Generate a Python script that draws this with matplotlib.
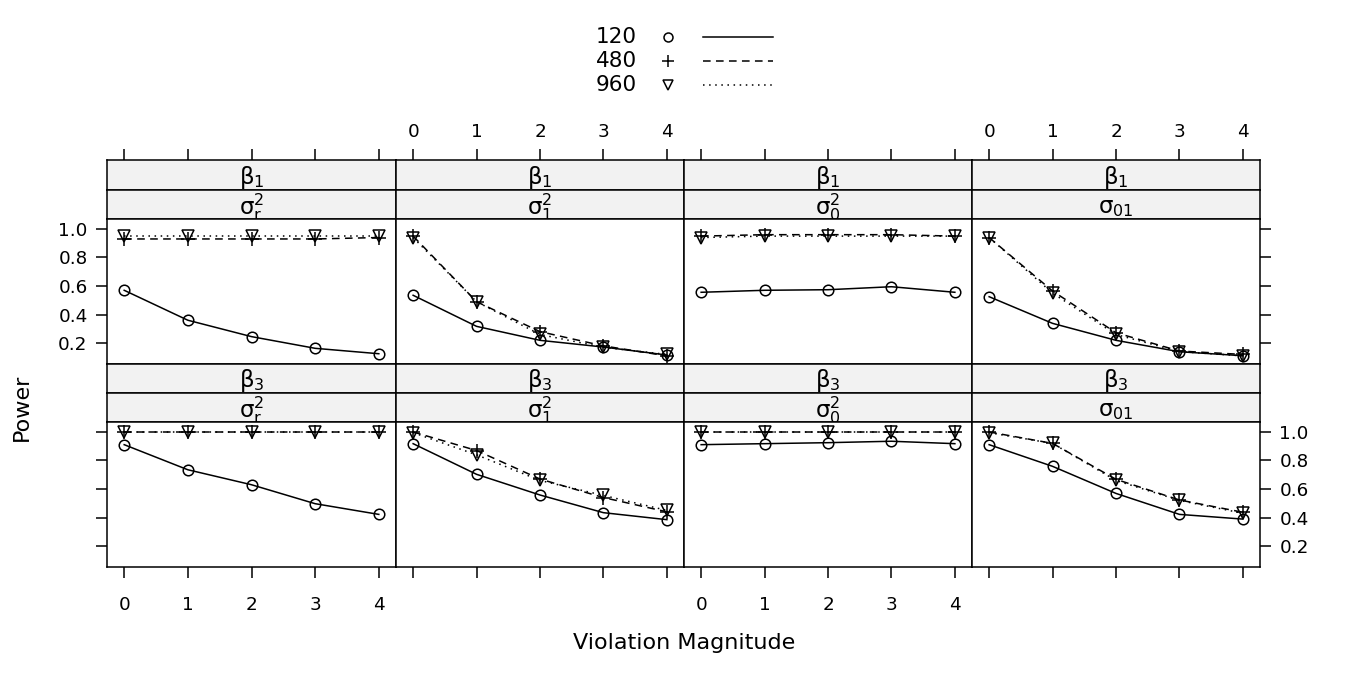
import matplotlib
matplotlib.use('Agg')
import matplotlib.pyplot as plt

plt.rcParams['font.family'] = ['DejaVu Sans']
plt.rcParams['mathtext.fontset'] = 'dejavusans'

# ---------------- data ----------------
magnitude = [0, 1, 2, 3, 4]
sample_sizes = ['120', '480', '960']
row_labels = [r'$\mathregular{β_1}$', r'$\mathregular{β_3}$']
col_labels = [r'$\mathregular{σ^2_r}$', r'$\mathregular{σ^2_1}$',
              r'$\mathregular{σ^2_0}$', r'$\mathregular{σ_{01}}$']
y_ticks = [0.2, 0.4, 0.6, 0.8, 1.0]
y_tick_labels = ['0.2', '0.4', '0.6', '0.8', '1.0']
x_tick_labels = ['0', '1', '2', '3', '4']

# beta1 row
b1_sr2_120 = [0.57, 0.36, 0.245, 0.163, 0.125]
b1_sr2_480 = [0.93, 0.93, 0.93, 0.93, 0.94]
b1_sr2_960 = [0.95, 0.95, 0.95, 0.95, 0.95]

b1_s12_120 = [0.535, 0.317, 0.219, 0.172, 0.116]
b1_s12_480 = [0.95, 0.49, 0.28, 0.18, 0.11]
b1_s12_960 = [0.94, 0.49, 0.26, 0.17, 0.12]

b1_s02_120 = [0.556, 0.570, 0.574, 0.595, 0.556]
b1_s02_480 = [0.95, 0.96, 0.96, 0.96, 0.95]
b1_s02_960 = [0.94, 0.95, 0.95, 0.95, 0.95]

b1_s01_120 = [0.525, 0.338, 0.219, 0.139, 0.111]
b1_s01_480 = [0.94, 0.565, 0.272, 0.144, 0.12]
b1_s01_960 = [0.94, 0.55, 0.26, 0.14, 0.11]

# beta3 row
b3_sr2_120 = [0.911, 0.735, 0.630, 0.497, 0.422]
b3_sr2_480 = [1.0, 1.0, 1.0, 1.0, 1.0]
b3_sr2_960 = [1.0, 1.0, 1.0, 1.0, 1.0]

b3_s12_120 = [0.918, 0.703, 0.558, 0.434, 0.385]
b3_s12_480 = [1.0, 0.87, 0.67, 0.54, 0.44]
b3_s12_960 = [0.995, 0.84, 0.66, 0.555, 0.45]

b3_s02_120 = [0.911, 0.918, 0.925, 0.935, 0.918]
b3_s02_480 = [1.0, 1.0, 1.0, 1.0, 1.0]
b3_s02_960 = [1.0, 1.0, 1.0, 1.0, 1.0]

b3_s01_120 = [0.911, 0.759, 0.569, 0.422, 0.389]
b3_s01_480 = [1.0, 0.92, 0.668, 0.523, 0.437]
b3_s01_960 = [0.995, 0.92, 0.66, 0.52, 0.43]

panels = [
    [(b1_sr2_120, b1_sr2_480, b1_sr2_960), (b1_s12_120, b1_s12_480, b1_s12_960),
     (b1_s02_120, b1_s02_480, b1_s02_960), (b1_s01_120, b1_s01_480, b1_s01_960)],
    [(b3_sr2_120, b3_sr2_480, b3_sr2_960), (b3_s12_120, b3_s12_480, b3_s12_960),
     (b3_s02_120, b3_s02_480, b3_s02_960), (b3_s01_120, b3_s01_480, b3_s01_960)],
]

# ---------------- styling ----------------
W, H = 1350, 675
LW = 1.1
styles = [
    dict(marker='o', linestyle='-', ms=7.6, mfc='none'),
    dict(marker='+', linestyle=(0, (5, 3.5)), ms=10),
    dict(marker='v', linestyle=(0, (1, 3)), ms=9, mfc='none'),
]
TICK_FS = 13.2
STRIP_FS = 16.5
STRIP_BG = '#f2f2f2'

fig = plt.figure(figsize=(W / 100, H / 100), dpi=100)


def px_axes(x0, y0, x1, y1, **kw):
    return fig.add_axes([x0 / W, 1 - y1 / H, (x1 - x0) / W, (y1 - y0) / H], **kw)


col_x = [107, 396, 684, 972, 1260]
row_y = [(160, 190, 219, 364), (364, 393, 422, 567)]
XLIM = (-0.27, 4.27)
YLIM = (0.053, 1.07)


def style_frame(ax):
    for s in ax.spines.values():
        s.set_linewidth(LW)
        s.set_color('black')


for r in range(2):
    ys1, ys2, yp0, yp1 = row_y[r]
    for c in range(4):
        x0, x1 = col_x[c], col_x[c + 1]
        # outer strip (parameter)
        s1 = px_axes(x0, ys1, x1, ys2)
        s1.set_facecolor(STRIP_BG)
        s1.set_xlim(XLIM)
        s1.set_ylim(0, 1)
        s1.text(0.5, 0.42, row_labels[r], transform=s1.transAxes,
                ha='center', va='center', fontsize=STRIP_FS)
        style_frame(s1)
        s1.set_yticks([])
        if r == 0:
            s1.set_xticks(magnitude)
            s1.tick_params(axis='x', top=True, bottom=False, labeltop=(c % 2 == 1),
                           labelbottom=False, direction='out', length=8, width=LW,
                           labelsize=TICK_FS, pad=6)
            s1.set_xticklabels(x_tick_labels)
        else:
            s1.set_xticks([])
        # inner strip (violation)
        s2 = px_axes(x0, ys2, x1, yp0)
        s2.set_facecolor(STRIP_BG)
        s2.text(0.5, 0.40, col_labels[c], transform=s2.transAxes,
                ha='center', va='center', fontsize=STRIP_FS)
        style_frame(s2)
        s2.set_xticks([])
        s2.set_yticks([])

        # panel
        ax = px_axes(x0, yp0, x1, yp1)
        for series, st in zip(panels[r][c], styles):
            ax.plot(magnitude, series, color='black', lw=LW, mew=LW, **st)
        ax.set_xlim(XLIM)
        ax.set_ylim(YLIM)
        style_frame(ax)
        if r == 1:
            ax.set_xticks(magnitude)
            ax.set_xticklabels(x_tick_labels)
            ax.tick_params(axis='x', bottom=True, top=False, labelbottom=(c % 2 == 0),
                           direction='out', length=8, width=LW, labelsize=TICK_FS, pad=13)
        else:
            ax.set_xticks([])
        if c == 0 or c == 3:
            ax.set_yticks(y_ticks)
            ax.set_yticklabels(y_tick_labels)
            ax.tick_params(axis='y', left=(c == 0), right=(c == 3),
                           labelleft=(c == 0 and r == 0), labelright=(c == 3 and r == 1),
                           direction='out', length=8, width=LW, labelsize=TICK_FS, pad=6)
        else:
            ax.set_yticks([])

# ---------------- legend (key at top) ----------------
leg = px_axes(0, 0, W, H)
leg.set_xlim(0, W)
leg.set_ylim(H, 0)
leg.axis('off')
leg.set_zorder(-1)
leg_rows = [37, 61, 85]
for lab, st, yy in zip(sample_sizes, styles, leg_rows):
    leg.text(637, yy, lab, ha='right', va='center', fontsize=15.5)
    leg.plot([668], [yy], color='black', marker=st['marker'], linestyle='none',
             ms=st['ms'] * 0.85, mfc='none', mew=LW)
    leg.plot([703, 773], [yy, yy], color='black', lw=LW, linestyle=st['linestyle'])

fig.text(22 / W, 1 - 407 / H, 'Power', rotation=90, ha='center', va='center', fontsize=16)
fig.text(684 / W, 1 - 643 / H, 'Violation Magnitude', ha='center', va='center', fontsize=16)

fig.savefig('out.png', dpi=100)
